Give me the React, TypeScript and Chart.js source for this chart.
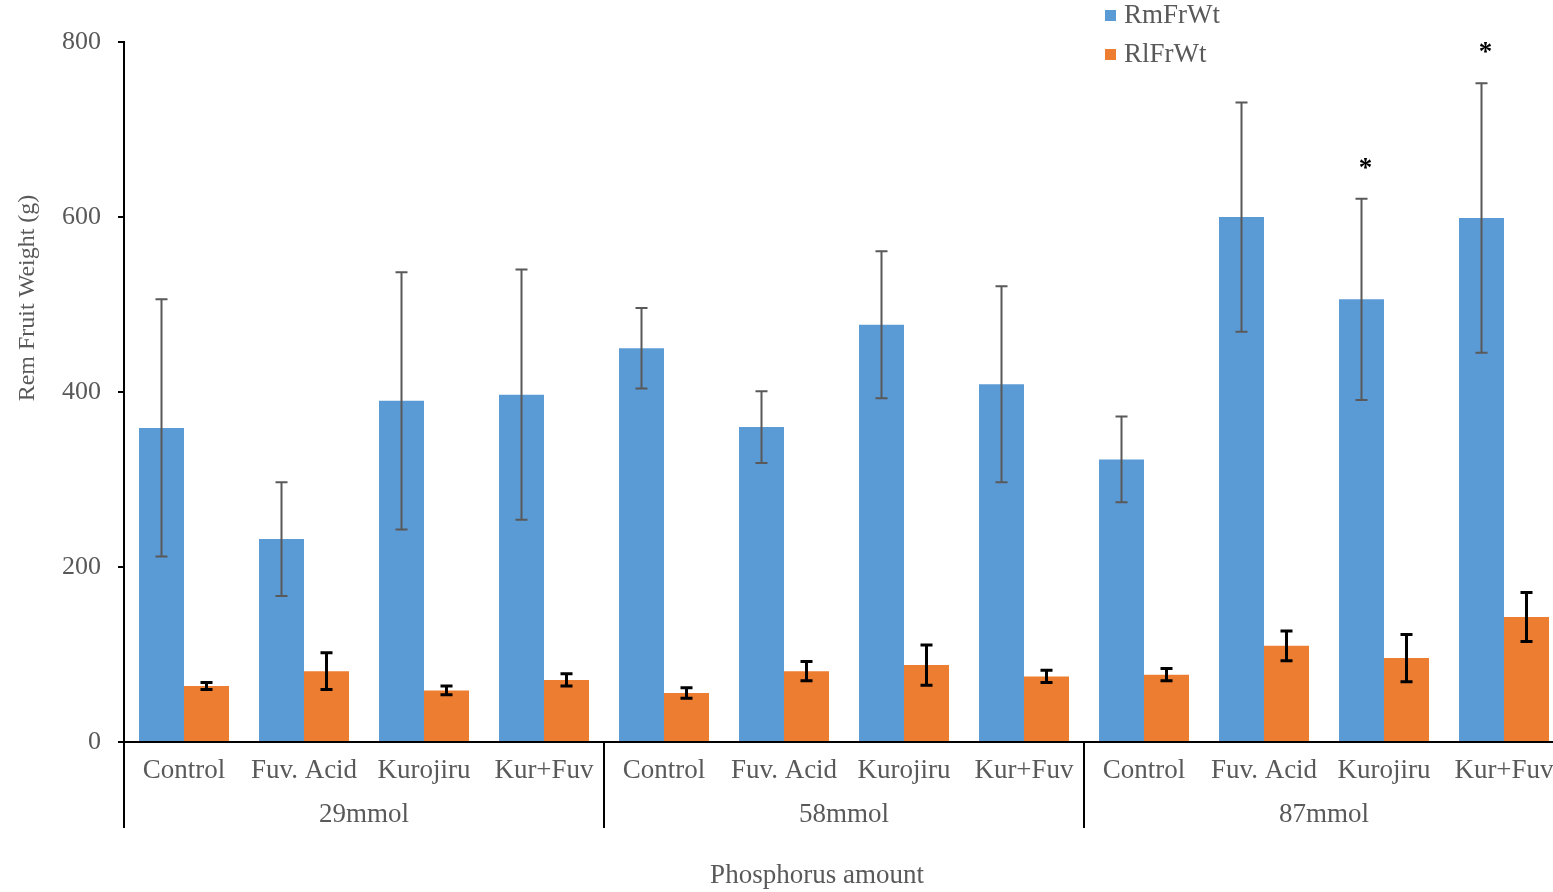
import React, { useEffect, useRef } from "react";
import { Chart, registerables } from "chart.js";

Chart.register(...registerables);

const categories = [
  "Control", "Fuv. Acid", "Kurojiru", "Kur+Fuv",
  "Control", "Fuv. Acid", "Kurojiru", "Kur+Fuv",
  "Control", "Fuv. Acid", "Kurojiru", "Kur+Fuv",
];
const groups = ["29mmol", "58mmol", "87mmol"];
const rmFrWt = [359, 232, 390, 397, 450, 360, 477, 409, 323, 600, 506, 599];
const rmFrWtErr = [147, 65, 147, 143, 46, 41, 84, 112, 49, 131, 115, 154];
const rlFrWt = [64, 81, 59, 71, 56, 81, 88, 75, 77, 110, 96, 143];
const rlFrWtErr = [4, 21, 5, 7, 6, 11, 23, 7, 7, 17, 27, 28];
const significant = [false, false, false, false, false, false, false, false, false, false, true, true];
const yTicks = [0, 200, 400, 600, 800];

const FONT = '"Liberation Serif", "Times New Roman", serif';
const TEXT = "#595959";
const BLUE = "#5B9BD5";
const ORANGE = "#ED7D31";

export default function App() {
  const ref = useRef<HTMLCanvasElement | null>(null);

  useEffect(() => {
    document.body.style.margin = "0";
    document.body.style.overflow = "hidden";
    const canvas = ref.current!;
    const overlay = {
      id: "overlay",
      afterDatasetsDraw(chart: any) {
        const ctx = chart.ctx;
        const y = chart.scales.y;
        const errs = [rmFrWtErr, rlFrWtErr];
        const vals = [rmFrWt, rlFrWt];
        ctx.save();
        [0, 1].forEach((di) => {
          const meta = chart.getDatasetMeta(di);
          meta.data.forEach((el: any, i: number) => {
            const top = y.getPixelForValue(vals[di][i] + errs[di][i]);
            const bot = y.getPixelForValue(vals[di][i] - errs[di][i]);
            ctx.strokeStyle = di === 0 ? "#595959" : "#000";
            ctx.lineWidth = di === 0 ? 2 : 3;
            ctx.beginPath();
            ctx.moveTo(el.x, top);
            ctx.lineTo(el.x, bot);
            ctx.moveTo(el.x - 6, top);
            ctx.lineTo(el.x + 6, top);
            ctx.moveTo(el.x - 6, bot);
            ctx.lineTo(el.x + 6, bot);
            ctx.stroke();
            if (di === 0 && significant[i]) {
              ctx.fillStyle = "#000";
              ctx.font = `bold 27px ${FONT}`;
              ctx.textAlign = "center";
              ctx.textBaseline = "middle";
              ctx.fillText("*", el.x + 4, top - 30);
            }
          });
        });
        // group separators & labels
        const area = chart.chartArea;
        const step = (area.right - area.left) / categories.length;
        ctx.strokeStyle = "#000";
        ctx.lineWidth = 2;
        for (let g = 0; g < groups.length; g++) {
          const gx = area.left + g * 4 * step;
          ctx.beginPath();
          ctx.moveTo(gx, area.bottom);
          ctx.lineTo(gx, area.bottom + 86);
          ctx.stroke();
          ctx.fillStyle = TEXT;
          ctx.font = `27px ${FONT}`;
          ctx.textAlign = "center";
          ctx.textBaseline = "middle";
          ctx.fillText(groups[g], gx + 2 * step, area.bottom + 73);
        }
        // axis titles
        ctx.fillStyle = TEXT;
        ctx.font = `27px ${FONT}`;
        ctx.textAlign = "center";
        ctx.textBaseline = "middle";
        ctx.fillText("Phosphorus amount", 817, 876);
        ctx.font = `24px ${FONT}`;
        ctx.save();
        ctx.translate(28, 298);
        ctx.rotate(-Math.PI / 2);
        ctx.fillText("Rem Fruit Weight (g)", 0, 0);
        ctx.restore();
        // legend
        const items = [["RmFrWt", BLUE, 16], ["RlFrWt", ORANGE, 55]] as const;
        items.forEach(([label, color, cy]) => {
          ctx.fillStyle = color;
          ctx.fillRect(1105, cy - 6, 11, 11);
          ctx.fillStyle = TEXT;
          ctx.font = `27px ${FONT}`;
          ctx.textAlign = "left";
          ctx.textBaseline = "middle";
          ctx.fillText(label, 1124, cy);
        });
        ctx.restore();
      },
    };

    const chart = new Chart(canvas, {
      type: "bar",
      data: {
        labels: categories,
        datasets: [
          { label: "RmFrWt", data: rmFrWt, backgroundColor: BLUE, categoryPercentage: 0.75, barPercentage: 1 },
          { label: "RlFrWt", data: rlFrWt, backgroundColor: ORANGE, categoryPercentage: 0.75, barPercentage: 1 },
        ],
      },
      options: {
        animation: false,
        responsive: false,
        layout: { padding: { top: 42, right: 36, left: 0, bottom: 0 } },
        plugins: { legend: { display: false }, tooltip: { enabled: false }, title: { display: false } },
        scales: {
          x: {
            grid: { display: false, drawTicks: false },
            border: { display: true, color: "#000", width: 2 },
            ticks: { color: TEXT, font: { family: FONT, size: 27 }, padding: 13, maxRotation: 0, autoSkip: false },
            afterFit: (s: any) => { s.height = 150; s.paddingLeft = 0; s.paddingRight = 0; },
          },
          y: {
            min: 0,
            max: 800,
            afterBuildTicks: (s: any) => { s.ticks = yTicks.map((v) => ({ value: v })); },
            grid: { drawOnChartArea: false, drawTicks: true, tickLength: 6, color: "#000", lineWidth: 2 },
            border: { display: true, color: "#000", width: 2 },
            ticks: { color: TEXT, font: { family: FONT, size: 26 }, padding: 17 },
            afterFit: (s: any) => { s.width = 124; s.paddingTop = 0; s.paddingBottom = 0; },
          },
        },
      },
      plugins: [overlay],
    });
    return () => chart.destroy();
  }, []);

  return (
    <div style={{ position: "fixed", left: 0, top: 0, width: 1553, height: 892, overflow: "hidden", background: "#fff" }}>
      <canvas ref={ref} width={1600} height={892} style={{ width: 1600, height: 892, display: "block" }} />
    </div>
  );
}
